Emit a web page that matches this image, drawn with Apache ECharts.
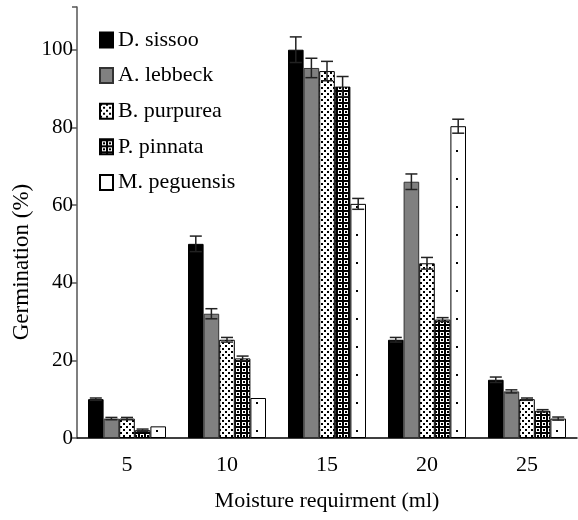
<!DOCTYPE html>
<html>
<head>
<meta charset="utf-8">
<script src="https://cdn.jsdelivr.net/npm/echarts@6/dist/echarts.min.js"></script>
<style>html,body{margin:0;padding:0;background:#fff;}#c{width:578px;height:520px;}</style>
</head>
<body>
<div id="c"></div>
<script>
// ---- data ----
const categories = ['5', '10', '15', '20', '25'];
const seriesNames = ['D. sissoo', 'A. lebbeck', 'B. purpurea', 'P. pinnata', 'M. peguensis'];
const dSissoo = [10, 50, 100, 25.3, 15];
const aLebbeck = [5, 32, 95.3, 66, 12];
const bPurpurea = [5, 25.3, 94.5, 45, 10];
const pPinnata = [2, 20.5, 90.5, 30.5, 7];
const mPeguensis = [3, 10.3, 60.3, 80.3, 5];
const errDSissoo = [0.3, 2, 3.3, 0.6, 0.7];
const errALebbeck = [0.3, 1.3, 2.5, 2, 0.4];
const errBPurpurea = [0.3, 0.6, 2.5, 1.5, 0.3];
const errPPinnata = [0.3, 0.6, 2.6, 0.5, 0.3];
const errMPeguensis = [0, 0, 1.4, 1.8, 0.4];
const yTicks = [0, 20, 40, 60, 80, 100];
const xTitle = 'Moisture requirment (ml)';
const yTitle = 'Germination (%)';

const values = [dSissoo, aLebbeck, bPurpurea, pPinnata, mPeguensis];
const errors = [errDSissoo, errALebbeck, errBPurpurea, errPPinnata, errMPeguensis];

// ---- patterns ----
function tile(w, h, draw) {
  const c = document.createElement('canvas');
  c.width = w; c.height = h;
  const g = c.getContext('2d');
  g.fillStyle = '#fff'; g.fillRect(0, 0, w, h);
  g.fillStyle = '#000';
  draw(g);
  return { image: c, repeat: 'repeat' };
}
const patB = tile(6, 6, g => { g.fillRect(0, 0, 2, 2); g.fillRect(3, 3, 2, 2); });
const patP = tile(6, 6, g => { g.fillRect(0, 0, 6, 2); g.fillRect(0, 0, 2, 6); g.fillRect(3, 3, 2, 2); });
const patM = tile(20, 28, g => { g.fillRect(16, 10, 2, 2); });

const fills = ['#000000', '#808080', patB, patP, patM];
const borders = ['#000', '#333', '#000', '#000', '#000'];

const FONT = 'Liberation Serif';
const BAR_FRAC = 0.78;

const series = [];
seriesNames.forEach((name, i) => {
  series.push({
    name: name,
    type: 'bar',
    data: values[i],
    barGap: '0%',
    barCategoryGap: '22%',
    itemStyle: { color: fills[i], borderColor: borders[i], borderWidth: 1 },
    emphasis: { disabled: true },
    animation: false
  });
});
seriesNames.forEach((name, i) => {
  series.push({
    name: 'err' + i,
    type: 'custom',
    z: 5,
    animation: false,
    data: values[i].map((v, k) => [k, v, errors[i][k]]),
    renderItem: function (params, api) {
      const k = api.value(0), v = api.value(1), e = api.value(2);
      if (!e) return null;
      const band = api.size([1, 0])[0];
      const bw = band * BAR_FRAC / 5;
      const off = (i - 2) * bw;
      const t = api.coord([k, v + e]);
      const b = api.coord([k, v - e]);
      const x = t[0] + off;
      const cap = 6;
      const st = { stroke: '#222', lineWidth: 1.5 };
      return {
        type: 'group',
        children: [
          { type: 'line', shape: { x1: x, y1: t[1], x2: x, y2: b[1] }, style: st },
          { type: 'line', shape: { x1: x - cap, y1: t[1], x2: x + cap, y2: t[1] }, style: st },
          { type: 'line', shape: { x1: x - cap, y1: b[1], x2: x + cap, y2: b[1] }, style: st }
        ]
      };
    }
  });
});

const chart = echarts.init(document.getElementById('c'), null, { renderer: 'canvas' });
chart.setOption({
  backgroundColor: '#fff',
  animation: false,
  textStyle: { fontFamily: FONT },
  grid: { left: 77, right: 1, top: 7, bottom: 82, containLabel: false },
  legend: {
    data: seriesNames,
    orient: 'vertical',
    left: 99,
    top: 29,
    padding: 0,
    icon: 'rect',
    itemWidth: 13,
    itemHeight: 15,
    itemGap: 13.6,
    textStyle: { fontFamily: FONT, fontSize: 22, color: '#000' },
    selectedMode: false
  },
  graphic: [{
    type: 'text',
    x: 22,
    y: 262,
    rotation: Math.PI / 2,
    style: { text: yTitle, fontFamily: FONT, fontSize: 23, fill: '#000', align: 'center', verticalAlign: 'middle' }
  }],
  xAxis: {
    type: 'category',
    data: categories,
    name: xTitle,
    nameLocation: 'middle',
    nameGap: 52,
    nameTextStyle: { fontFamily: FONT, fontSize: 22, color: '#000' },
    axisLine: { lineStyle: { color: '#000', width: 1.5 } },
    axisTick: { length: 6, lineStyle: { color: '#000', width: 1.5 } },
    axisLabel: { margin: 16, fontFamily: FONT, fontSize: 22, color: '#000' }
  },
  yAxis: {
    type: 'value',
    min: 0,
    max: 111,
    interval: 20,
    splitLine: { show: false },
    axisLine: { show: true, lineStyle: { color: '#555', width: 1.5 } },
    axisTick: { show: true, length: 5, lineStyle: { color: '#555', width: 1.5 } },
    axisLabel: {
      margin: 4, fontFamily: FONT, fontSize: 21, color: '#000',
      formatter: v => (yTicks.indexOf(v) >= 0 ? String(v) : '')
    }
  },
  series: series
});
</script>
</body>
</html>
